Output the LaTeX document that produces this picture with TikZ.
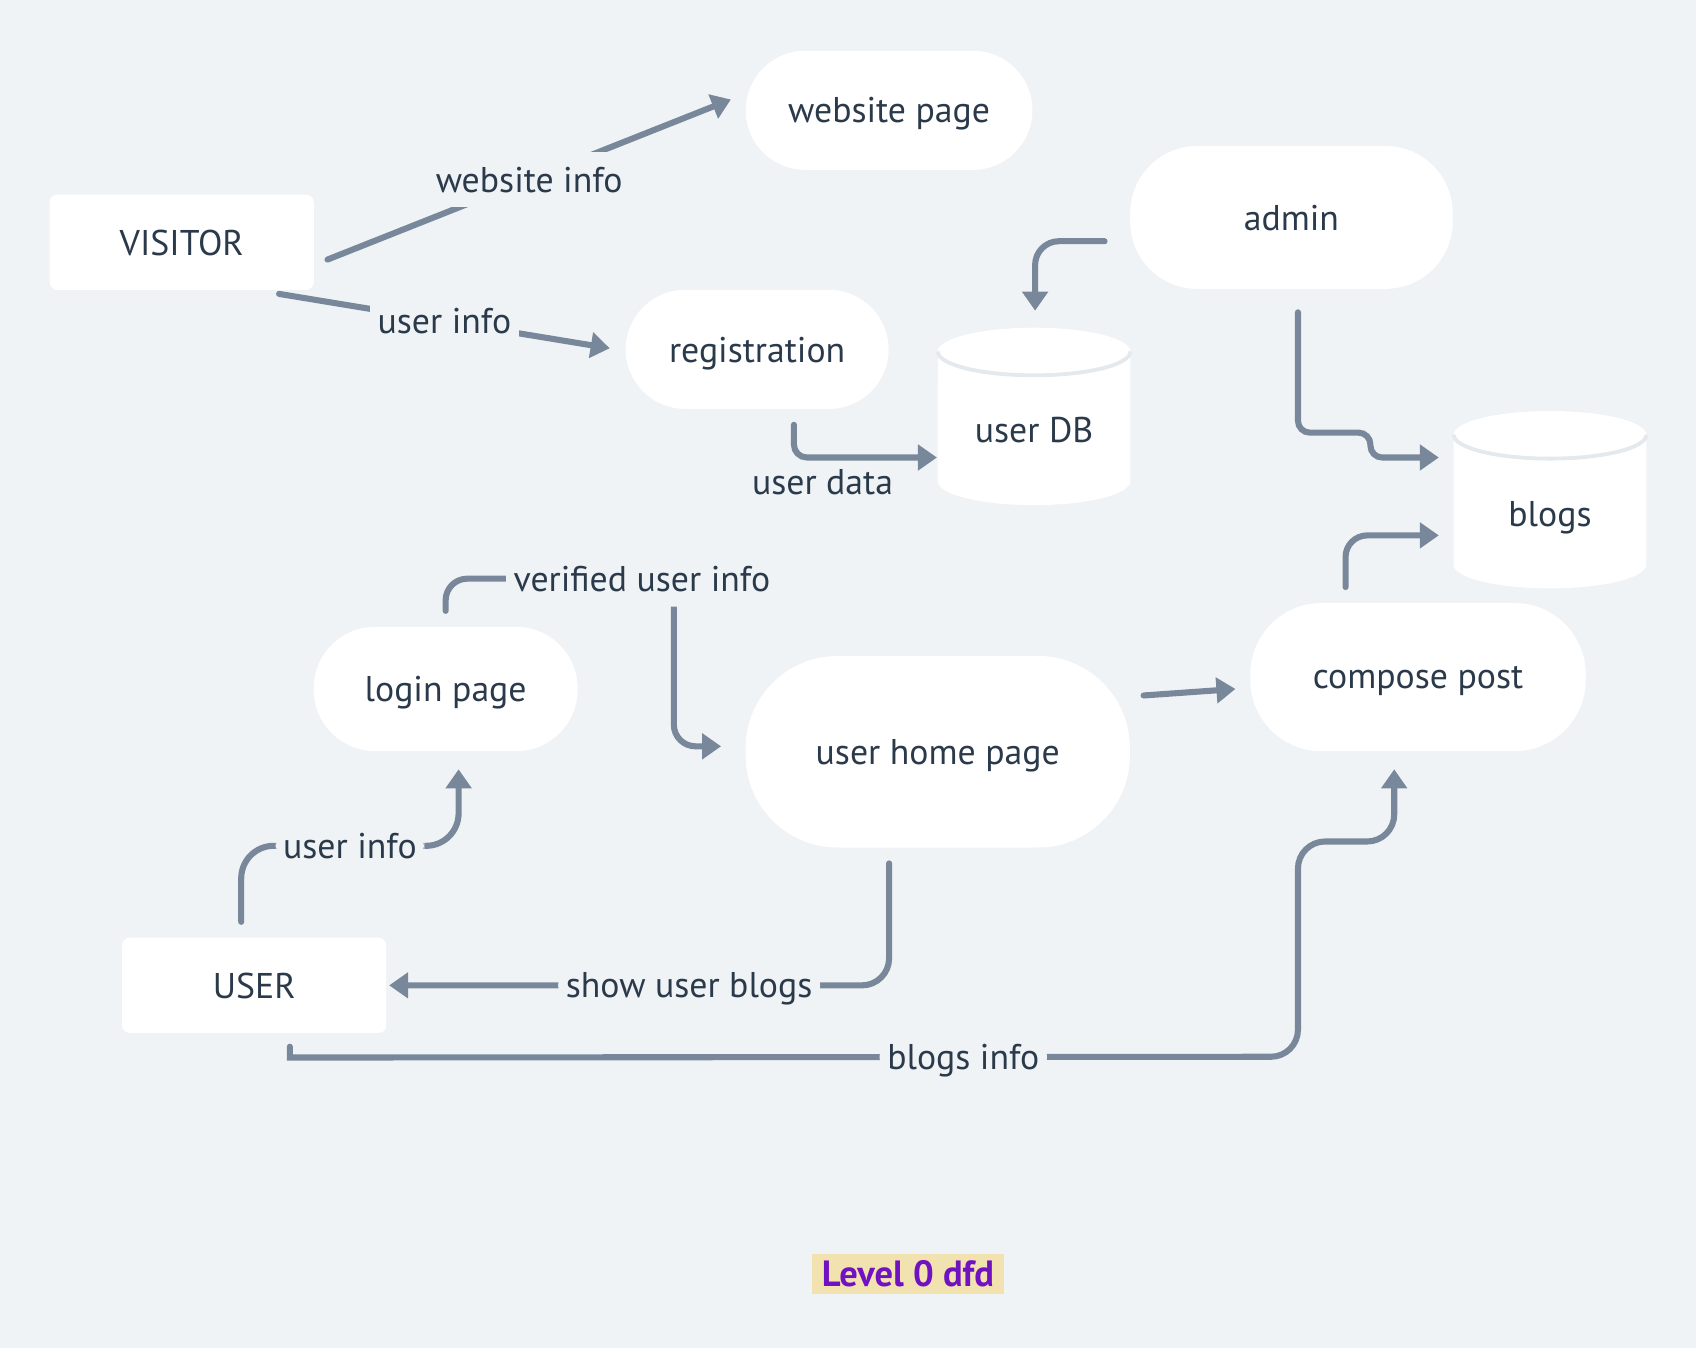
\documentclass[tikz,border=0pt]{standalone}
\usepackage{fontspec}
\setmainfont{PT Sans}
\usetikzlibrary{calc}
\usetikzlibrary{arrows.meta}

\definecolor{bgc}{HTML}{EFF3F6}
\definecolor{linec}{HTML}{78889A}
\definecolor{txtc}{HTML}{2B3A4B}
\definecolor{edgec}{HTML}{E4E9ED}
\definecolor{tagbg}{HTML}{F2E2B0}
\definecolor{tagfg}{HTML}{7011C2}

\tikzset{
  ent/.style={fill=white, rounded corners=2pt, text=txtc, text depth=0pt, minimum width=2.44cm, minimum height=0.88cm},
  proc/.style={fill=white, text=txtc, text depth=0pt},
  store/.style={text=txtc, text depth=0pt, minimum width=1.78cm, minimum height=1.44cm},
  flow/.style={draw=linec, line width=1.6pt, line cap=round, -{Triangle[length=5pt,width=6.6pt]}},
  lbl/.style={fill=bgc, text=txtc, text depth=0pt, inner xsep=2pt, inner ysep=4pt},
}
% white cylinder round a centre point
\newcommand\dbdraw[2]{%
  \fill[white] (#1-89,#2-60) arc[start angle=180,end angle=0,x radius=0.89cm,y radius=0.22cm]
    -- (#1+89,#2+60) arc[start angle=0,end angle=-180,x radius=0.89cm,y radius=0.22cm] -- cycle;
  \draw[edgec,line width=1pt] (#1-89,#2-60) arc[start angle=180,end angle=360,x radius=0.89cm,y radius=0.22cm];
}

\begin{document}
\begin{tikzpicture}[x=0.01cm,y=-0.01cm,font=\fontsize{9.4}{11}\selectfont]
\fill[bgc] (0,0) rectangle (1568,1246);
\useasboundingbox (0,0) rectangle (1568,1246);

%entities
\node[ent] (vis) at (168,224) {VISITOR};
\node[ent] (usr) at (235,911) {USER};

%processes
\node[proc, minimum width=2.65cm, minimum height=1.10cm, rounded corners=0.55cm] (web) at (822,102) {website page};
\node[proc, minimum width=2.98cm, minimum height=1.32cm, rounded corners=0.62cm] (adm) at (1194,201) {admin};
\node[proc, minimum width=2.43cm, minimum height=1.10cm, rounded corners=0.55cm] (reg) at (700,323) {registration};
\node[proc, minimum width=2.44cm, minimum height=1.15cm, rounded corners=0.57cm] (lgn) at (412,637) {login page};
\node[proc, minimum width=3.55cm, minimum height=1.77cm, rounded corners=0.85cm] (uhp) at (867,695) {user home page};
\node[proc, minimum width=3.10cm, minimum height=1.37cm, rounded corners=0.66cm] (cmp) at (1311,626) {compose post};

%data stores
\dbdraw{956}{385}
\node[store] (udb) at (956,397) {user DB};
\dbdraw{1433}{462}
\node[store] (blg) at (1433,475) {blogs};

%flows
\draw[flow] ($(vis.east)+(12,16)$) -- node[lbl]{website info} ($(web.west)+(-13,-10)$);
\draw[flow] ($(vis.south)+(90,3)$) -- node[lbl]{user info} ($(reg.west)+(-14,-1)$);
\draw[flow, rounded corners=0.12cm] ($(reg.south)+(34,14)$) |- node[pos=0.6, below=-1pt, text=txtc]{user data} ($(udb.west)+(0,26)$);
\draw[flow, rounded corners=0.22cm] ($(adm.west)+(-23,22)$) -| ($(udb.north)+(1,-37)$);
\draw[flow, rounded corners=0.11cm] ($(adm.south)+(6,21)$) |- (1267,400) |- ($(blg.west)+(-13,-52)$);
\draw[flow, rounded corners=0.2cm] ($(cmp.north)+(-67,-14)$) |- ($(blg.west)+(-13,20)$);
\draw[flow, rounded corners=0.2cm] ($(lgn.north)+(0,-14)$) |- node[lbl, pos=0.93]{verified user info} (623,535) |- ($(uhp.west)+(-22,-5)$);
\draw[flow] ($(uhp.east)+(12,-52)$) -- ($(cmp.west)+(-13,11)$);
\draw[flow, rounded corners=0.3cm] ($(usr.north)+(-12,-14)$) |- node[lbl, pos=0.75]{user info} (424,782) -- ($(lgn.south)+(12,16)$);
\draw[flow, rounded corners=0.25cm] ($(uhp.south)+(-45,14)$) |- node[lbl, pos=0.7]{show user blogs} ($(usr.east)+(2,0)$);
\draw[flow] ($(usr.south)+(33,12)$) -- ++(0,10) [rounded corners=0.25cm] -- node[lbl, pos=0.668]{blogs info} (1200,977) |- (1289,778) -- ($(cmp.south)+(-22,16)$);

%caption
\node[fill=tagbg, text=tagfg, font=\fontsize{9.6}{11}\selectfont\bfseries, minimum width=1.77cm, minimum height=0.37cm, inner sep=0pt] (ttl) at (839.5,1177.5) {Level 0 dfd};
\end{tikzpicture}
\end{document}
